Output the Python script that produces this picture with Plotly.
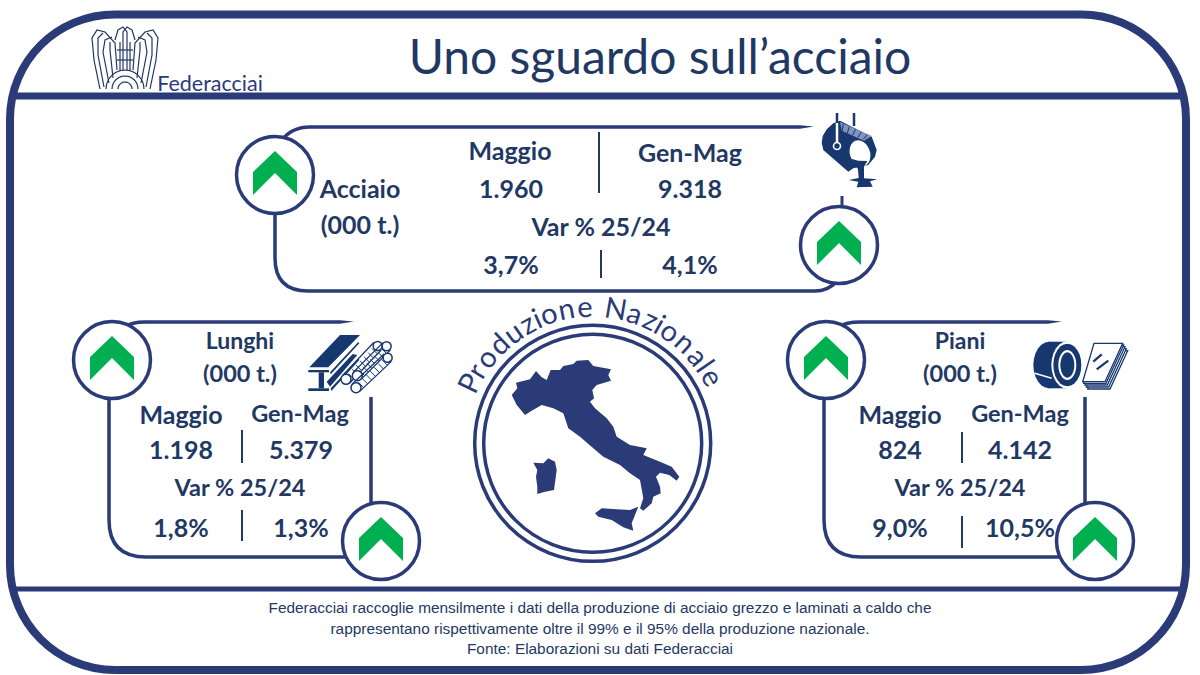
import math
import plotly.graph_objects as go

NAVY = "#2a3b78"
TEXT = "#1f3864"
ICON = "#17376f"
GREEN = "#00b050"

title = "Uno sguardo sull’acciaio"
brand = "Federacciai"
arc_title = "Produzione Nazionale"
col_labels = ["Maggio", "Gen-Mag"]
var_label = "Var % 25/24"
unit = "(000 t.)"
footer = [
    "Federacciai raccoglie mensilmente i dati della produzione di acciaio grezzo e laminati a caldo che",
    "rappresentano rispettivamente oltre il 99% e il 95% della produzione nazionale.",
    "Fonte: Elaborazioni su dati Federacciai",
]

acciaio_vals = ["1.960", "9.318"]
acciaio_var = ["3,7%", "4,1%"]
lunghi_vals = ["1.198", "5.379"]
lunghi_var = ["1,8%", "1,3%"]
piani_vals = ["824", "4.142"]
piani_var = ["9,0%", "10,5%"]

fig = go.Figure()
shapes = []


def path(pts, ox=0, oy=0, s=1.0, close=True):
    d = "M" + " L".join(f"{ox + x * s:.1f},{oy + y * s:.1f}" for x, y in pts)
    return d + (" Z" if close else "")


def fill(d, color=NAVY):
    shapes.append(dict(type="path", path=d, fillcolor=color, line=dict(width=0)))


def stroke(d, width=3.5, color=NAVY):
    shapes.append(dict(type="path", path=d, line=dict(color=color, width=width)))


def seg(x0, y0, x1, y1, width=3.5, color=NAVY):
    shapes.append(dict(type="line", x0=x0, y0=y0, x1=x1, y1=y1, line=dict(color=color, width=width)))


def ring(cx, cy, r, width=3.5, color=NAVY, bg="white"):
    shapes.append(dict(type="circle", x0=cx - r, x1=cx + r, y0=cy - r, y1=cy + r,
                       fillcolor=bg, line=dict(color=color, width=width)))


def ellipse(cx, cy, rx, ry, deg=0):
    c, s = math.cos(math.radians(deg)), math.sin(math.radians(deg))
    pts = []
    for a in range(0, 360, 15):
        ex, ey = rx * math.cos(math.radians(a)), ry * math.sin(math.radians(a))
        pts.append((cx + ex * c - ey * s, cy + ex * s + ey * c))
    return pts


def txt(x, y, s, size=25, color=TEXT, family="Lato", bold=True):
    label = f"<b>{s}</b>" if bold else s
    fig.add_trace(go.Scatter(x=[x], y=[y + 4.5], mode="text", text=[label], textposition="middle center",
                             textfont=dict(size=size, color=color, family=family),
                             hoverinfo="skip", showlegend=False))


def badge(cx, cy):
    ring(cx, cy, 38.5)
    chevron = [(0, -24), (22, -3), (22, 20), (0, -2), (-22, 20), (-22, -3)]
    fill(path(chevron, cx, cy), GREEN)


def tip(x, y, direction=1):
    fill(path([(x, y - 1.75), (x + direction * 14, y - 0.4), (x, y + 1.75)]))


# outer frame
shapes.append(dict(type="path",
                   path="M115,14.5 L1081,14.5 C1139,14.5 1186,61 1186,119 L1186,565 C1186,623 1139,670 1081,670 "
                        "L115,670 C57,670 10,623 10,565 L10,119 C10,61 57,14.5 115,14.5 Z",
                   line=dict(color=NAVY, width=8)))
seg(12, 96, 1184, 96, 7)
seg(12, 589, 1184, 589, 5)

# Acciaio panel
stroke("M282,140 Q292,127 310,127 L800,127", 3.5)
tip(800, 127)
stroke("M275,210 L275,258 Q275,291 308,291 L815,291 Q828,291 836,282", 3.5)
seg(842, 196, 842, 207, 3)
badge(275, 175)
badge(839, 245)
seg(599, 132, 599, 193, 2, TEXT)
seg(601, 250, 601, 278, 2, TEXT)

# Lunghi panel
stroke("M124,327 Q132,322 145,322 L340,322", 3.5)
tip(340, 322)
stroke("M109,395 L109,520 Q109,557 146,557 L345,557", 3.5)
seg(371, 397, 371, 505, 3.5)
badge(112, 360)
badge(381, 541)
seg(242, 430, 242, 463, 2, TEXT)
seg(242, 510, 242, 541, 2, TEXT)

# Piani panel
stroke("M838,327 Q846,322 860,322 L1048,322", 3.5)
tip(1048, 322)
stroke("M824,398 L824,520 Q824,557 861,557 L1060,557", 3.5)
seg(1085, 397, 1085, 505, 3.5)
badge(826, 360)
badge(1095, 541)
seg(962, 432, 962, 463, 2, TEXT)
seg(962, 516, 962, 548, 2, TEXT)

# central emblem
ring(592.7, 443.3, 118, 3.5, NAVY, "rgba(0,0,0,0)")
ring(592.7, 443.3, 109, 3.5, NAVY, "rgba(0,0,0,0)")
mainland = [(245, 315), (262, 295), (258, 278), (300, 268), (318, 243), (335, 262), (350, 270), (362, 240),
            (390, 240), (400, 228), (430, 222), (440, 212), (475, 210), (490, 228), (543, 238), (535, 255),
            (543, 272), (500, 285), (487, 300), (492, 325), (480, 335), (495, 355), (530, 385), (550, 410),
            (560, 440), (600, 465), (650, 475), (640, 495), (690, 515), (725, 530), (748, 560), (740, 572),
            (718, 555), (690, 548), (678, 560), (690, 590), (692, 610), (670, 620), (665, 640), (640, 662),
            (630, 655), (640, 625), (630, 570), (600, 550), (570, 525), (520, 500), (490, 475), (450, 440),
            (415, 415), (400, 370), (370, 355), (335, 345), (300, 365), (285, 375), (260, 345)]
sardinia = [(310, 518), (340, 520), (355, 505), (375, 515), (380, 540), (372, 600), (345, 605), (322, 612),
            (322, 590), (318, 560), (322, 540)]
sicily = [(495, 670), (515, 655), (560, 658), (600, 660), (625, 650), (605, 700), (610, 722), (580, 712),
          (545, 690), (505, 680)]
for land in (mainland, sardinia, sicily):
    fill(path(land, 430, 290, 1 / 3))

# ladle icon
LX, LY, LS = 800, 100, 1 / 3
ladle_body = [(100, 70), (80, 88), (68, 108), (65, 128), (70, 150), (145, 215), (160, 205), (205, 195),
              (225, 170), (230, 150), (215, 110), (120, 62)]
fill(path(ladle_body, LX, LY, LS), ICON)
fill(path([(120, 66), (215, 108), (192, 122), (125, 92)], LX, LY, LS), "#7f93bd")
for k in range(5):
    stroke(path([(130 + k * 18, 72 + k * 8), (126 + k * 16, 94 + k * 6)], LX, LY, LS, close=False), 1, ICON)
fill(path(ellipse(180, 160, 30, 40, -20), LX, LY, LS), "white")
pour = [(153, 176), (175, 182), (202, 183), (192, 200), (192, 235), (232, 238), (210, 244), (218, 260), (170, 262),
        (175, 245), (146, 240), (176, 234), (174, 208)]
fill(path(pour, LX, LY, LS), ICON)
seg(837, 113, 837, 123, 2.5, ICON)
seg(837, 123, 837, 143, 2.5, "white")
seg(854, 113, 854, 126, 2.5, ICON)
ring(837, 146, 3.5, 1.6, "white", ICON)

# beam + rebar icon
BX, BY, BS = 280, 320, 1 / 3
fill(path([(88, 142), (180, 45), (240, 45), (145, 142)], BX, BY, BS), ICON)
fill(path([(85, 150), (147, 150), (147, 157), (85, 157)], BX, BY, BS), ICON)
fill(path([(116, 157), (132, 157), (132, 205), (116, 205)], BX, BY, BS), ICON)
fill(path([(85, 205), (147, 205), (147, 213), (85, 213)], BX, BY, BS), ICON)
fill(path([(150, 157), (235, 66), (238, 70), (152, 163)], BX, BY, BS), ICON)
fill(path([(140, 185), (218, 102), (232, 105), (150, 200)], BX, BY, BS), ICON)
fill(path([(152, 205), (236, 115), (238, 120), (154, 213)], BX, BY, BS), ICON)
for cx, cy, dx, dy in [(198, 178, 95, -100), (232, 167, 88, -88), (228, 203, 95, -90)]:
    ax, ay = BX + cx * BS, BY + cy * BS
    bx, by = ax + dx * BS, ay + dy * BS
    stroke(path([(ax + 3.7, ay + 3.7), (bx + 3.7, by + 3.7)], close=False), 1.3, ICON)
    stroke(path([(ax - 3.7, ay - 3.7), (bx - 3.7, by - 3.7)], close=False), 1.3, ICON)
    for k in range(1, 8):
        mx, my = ax + (bx - ax) * k / 8, ay + (by - ay) * k / 8
        stroke(path([(mx + 3.7, my + 3.7), (mx - 3.7 + 2, my - 3.7 + 2)], close=False), 1, ICON)
    ring(ax, ay, 5, 1.5, ICON)
    ring(bx, by, 4.5, 1.5, ICON)

# coil + sheets icon
CX, CY, CS = 1010, 320, 1 / 3
fill(path(ellipse(118, 135, 48, 70), CX, CY, CS), ICON)
fill(path([(115, 65), (172, 65), (172, 205), (115, 205)], CX, CY, CS), ICON)
stroke(path([(74, 160), (125, 175)], CX, CY, CS, close=False), 1.5, "white")
fill(path(ellipse(172, 135, 48, 71), CX, CY, CS), "white")
fill(path(ellipse(172, 135, 42, 64), CX, CY, CS), ICON)
fill(path(ellipse(172, 135, 27, 45), CX, CY, CS), "white")
fill(path(ellipse(172, 135, 21, 38), CX, CY, CS), ICON)
sheet = [(252, 70), (338, 70), (285, 185), (218, 185)]
for dx, dy in [(15, 22), (11, 16), (7, 10), (3, 5), (0, 0)]:
    shapes.append(dict(type="path", path=path([(x + dx, y + dy) for x, y in sheet], CX, CY, CS),
                       fillcolor="white", line=dict(color=ICON, width=1.3)))
for a, b in [((250, 125), (275, 103)), ((260, 148), (295, 122))]:
    stroke(path([a, b], CX, CY, CS, close=False), 2.2, ICON)

# logo
wing_l = [[(100, 89), (94, 60), (92, 38), (97, 30), (105, 32), (115, 43), (117, 70)],
          [(104, 87), (98, 55), (98, 38), (103, 33)],
          [(109, 83), (103, 52), (105, 40), (112, 37)],
          [(113, 78), (110, 50), (110, 42)],
          [(115, 40), (118, 30), (123, 27), (127, 32), (127, 70)]]
for line in wing_l:
    stroke(path(line, close=False), 1.2, TEXT)
    stroke(path([(250 - x, y) for x, y in line], close=False), 1.2, TEXT)
seg(120, 42, 120, 70, 1.2, TEXT)
seg(130, 42, 130, 70, 1.2, TEXT)
seg(117, 50, 133, 50, 1.2, TEXT)
seg(117, 60, 133, 60, 1.2, TEXT)
for r in (7, 13, 19):
    stroke(path([(125 + r * math.cos(math.radians(a)), 89 - r * math.sin(math.radians(a)))
                 for a in range(0, 181, 15)], close=False), 1.2, TEXT)

# text
txt(660, 57.5, title, 48, TEXT, "Lato", False)
txt(210, 81, brand, 21.5, NAVY, "Lato", False)

txt(360, 187, "Acciaio")
txt(360, 223, unit)
txt(510, 149, col_labels[0])
txt(690, 151, col_labels[1])
txt(511, 187, acciaio_vals[0])
txt(690, 187, acciaio_vals[1])
txt(601, 225, var_label)
txt(511, 263, acciaio_var[0])
txt(690, 263, acciaio_var[1])

txt(240, 339, "Lunghi", 23)
txt(240, 372, unit, 23.5)
txt(181, 413, col_labels[0])
txt(300, 412, col_labels[1], 23.5)
txt(181, 448, lunghi_vals[0])
txt(301, 448, lunghi_vals[1])
txt(240, 486, var_label, 23.5)
txt(181, 526, lunghi_var[0])
txt(301, 526, lunghi_var[1])

txt(960, 339, "Piani", 23)
txt(960, 372, unit, 23.5)
txt(900, 413, col_labels[0])
txt(1020, 412, col_labels[1], 23.5)
txt(900, 448, piani_vals[0])
txt(1020, 448, piani_vals[1])
txt(960, 486, var_label, 23.5)
txt(900, 526, piani_var[0])
txt(1020, 526, piani_var[1])

for i, line in enumerate(footer):
    txt(600, [605, 626, 646][i], line, 15.4, TEXT, "Liberation Sans", False)

# curved title, one annotation per letter, spaced by rough glyph width
widths = {"i": 0.35, "l": 0.35, " ": 0.55, "r": 0.6, "z": 0.75, "P": 0.9, "N": 1.1, "d": 1.0, "n": 0.95, "u": 0.95}
advance = [widths.get(ch, 0.95) for ch in arc_title]
total = sum(advance) - (advance[0] + advance[-1]) / 2
annotations = []
run = 0.0
for i, ch in enumerate(arc_title):
    ang = -64 + 125 * run / total
    if i < len(arc_title) - 1:
        run += (advance[i] + advance[i + 1]) / 2
    rad = math.radians(ang)
    annotations.append(dict(x=592.7 + 138 * math.sin(rad), y=443.3 - 138 * math.cos(rad), text=ch,
                            textangle=ang, showarrow=False, xref="x", yref="y",
                            font=dict(size=29, color=NAVY, family="Lato")))

fig.update_layout(
    width=1200, height=675, margin=dict(t=0, b=0, l=0, r=0),
    paper_bgcolor="white", plot_bgcolor="white", showlegend=False,
    xaxis=dict(range=[0, 1200], visible=False, fixedrange=True),
    yaxis=dict(range=[675, 0], visible=False, fixedrange=True),
    shapes=shapes, annotations=annotations,
)
fig.write_html("out.html", config={"displayModeBar": False},
               post_script="document.body.style.margin='0';document.body.style.overflow='hidden';")
